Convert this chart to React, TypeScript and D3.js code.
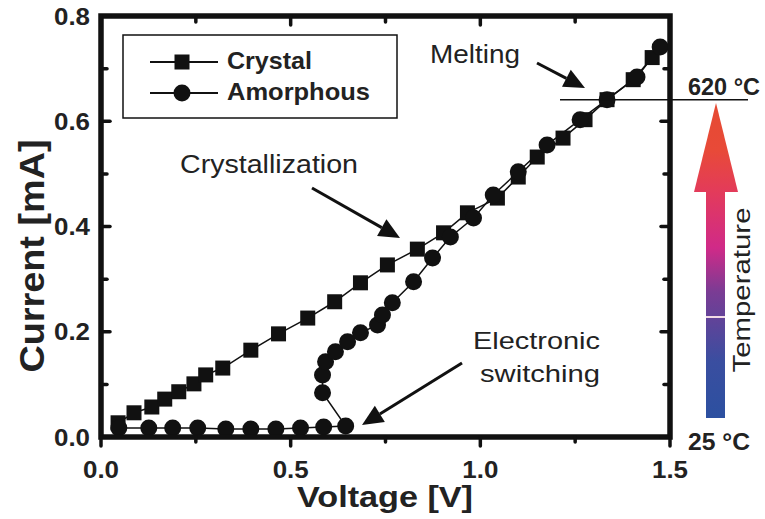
import React from "react";
import * as d3 from "d3";

const crystalV = [0.045, 0.087, 0.134, 0.168, 0.205, 0.245, 0.276, 0.321, 0.395, 0.468, 0.545, 0.616, 0.684, 0.755, 0.834, 0.903, 0.966, 1.045, 1.1, 1.15, 1.218, 1.276, 1.334, 1.403, 1.453];
const crystalI = [0.027, 0.046, 0.057, 0.072, 0.086, 0.101, 0.118, 0.131, 0.165, 0.196, 0.226, 0.257, 0.293, 0.327, 0.357, 0.388, 0.426, 0.454, 0.494, 0.532, 0.568, 0.603, 0.641, 0.679, 0.721];
const amorphV = [0.047, 0.126, 0.189, 0.255, 0.329, 0.395, 0.461, 0.526, 0.587, 0.645, 0.584, 0.584, 0.592, 0.618, 0.65, 0.684, 0.729, 0.742, 0.768, 0.824, 0.874, 0.921, 0.982, 1.034, 1.1, 1.176, 1.263, 1.334, 1.413, 1.474];
const amorphI = [0.017, 0.017, 0.017, 0.017, 0.015, 0.015, 0.015, 0.017, 0.019, 0.021, 0.084, 0.118, 0.143, 0.162, 0.181, 0.198, 0.213, 0.232, 0.255, 0.295, 0.34, 0.38, 0.416, 0.46, 0.504, 0.555, 0.603, 0.641, 0.684, 0.741];

const xMajor = [0, 0.5, 1.0, 1.5];
const xMinor = [0.25, 0.75, 1.25];
const yMajor = [0, 0.2, 0.4, 0.6, 0.8];
const yMinor = [0.1, 0.3, 0.5, 0.7];
const meltCurrent = 0.641;

const FONT = "'Liberation Sans', Arial, Helvetica, sans-serif";

export default function App() {
  const x = d3.scaleLinear().domain([0, 1.5]).range([101, 670]);
  const y = d3.scaleLinear().domain([0, 0.8]).range([437, 16]);
  const line = d3.line<[number, number]>().x((d) => x(d[0])).y((d) => y(d[1]));
  const cPts: [number, number][] = crystalV.map((v, i) => [v, crystalI[i]]);
  const aPts: [number, number][] = amorphV.map((v, i) => [v, amorphI[i]]);
  const x0 = x(0), x1 = x(1.5), y0 = y(0), y1 = y(0.8);

  const arrow = (sx: number, sy: number, tx: number, ty: number, key: string) => {
    const ang = Math.atan2(ty - sy, tx - sx);
    const L = 21, W = 9.5;
    const bx = tx - L * Math.cos(ang), by = ty - L * Math.sin(ang);
    const px = -Math.sin(ang), py = Math.cos(ang);
    return (
      <g key={key}>
        <line x1={sx} y1={sy} x2={bx} y2={by} stroke="#111" strokeWidth={3} />
        <polygon points={`${tx},${ty} ${bx + px * W},${by + py * W} ${bx - px * W},${by - py * W}`} fill="#111" />
      </g>
    );
  };

  const meltY = y(meltCurrent);

  return (
    <svg width={765} height={519} style={{ position: "absolute", left: 0, top: 0, background: "#fff" }} fontFamily={FONT}>
      <defs>
        <linearGradient id="tgrad" gradientUnits="userSpaceOnUse" x1={0} y1={418} x2={0} y2={103}>
          <stop offset="0" stopColor="#2c50a0" />
          <stop offset="0.18" stopColor="#3a4ea0" />
          <stop offset="0.4" stopColor="#7a3c94" />
          <stop offset="0.54" stopColor="#d02a88" />
          <stop offset="0.72" stopColor="#e33b5a" />
          <stop offset="0.85" stopColor="#e84a38" />
          <stop offset="1" stopColor="#e64a32" />
        </linearGradient>
      </defs>

      {/* data lines */}
      <path d={line(cPts) || ""} fill="none" stroke="#111" strokeWidth={1.5} />
      <path d={line(aPts) || ""} fill="none" stroke="#111" strokeWidth={1.5} />
      {cPts.map((p, i) => (
        <rect key={"c" + i} x={x(p[0]) - 7.5} y={y(p[1]) - 7.5} width={15} height={15} fill="#111" />
      ))}
      {aPts.map((p, i) => (
        <circle key={"a" + i} cx={x(p[0])} cy={y(p[1])} r={8.5} fill="#111" />
      ))}

      {/* frame */}
      <rect x={x0} y={y1} width={x1 - x0} height={y0 - y1} fill="none" stroke="#111" strokeWidth={5.5} />
      {/* ticks */}
      {yMajor.map((t) => (
        <g key={"ym" + t}>
          <line x1={x0} x2={x0 + 9} y1={y(t)} y2={y(t)} stroke="#111" strokeWidth={3.5} strokeLinecap="round" />
          <line x1={x1} x2={x1 - 9} y1={y(t)} y2={y(t)} stroke="#111" strokeWidth={3.5} strokeLinecap="round" />
        </g>
      ))}
      {yMinor.map((t) => (
        <g key={"yn" + t}>
          <line x1={x0} x2={x0 + 6} y1={y(t)} y2={y(t)} stroke="#111" strokeWidth={3.5} strokeLinecap="round" />
          <line x1={x1} x2={x1 - 6} y1={y(t)} y2={y(t)} stroke="#111" strokeWidth={3.5} strokeLinecap="round" />
        </g>
      ))}
      {xMajor.map((t) => (
        <g key={"xm" + t}>
          <line x1={x(t)} x2={x(t)} y1={y1} y2={y1 + 9} stroke="#111" strokeWidth={3.5} strokeLinecap="round" />
          <line x1={x(t)} x2={x(t)} y1={y0} y2={y0 + 9} stroke="#111" strokeWidth={3.5} strokeLinecap="round" />
        </g>
      ))}
      {xMinor.map((t) => (
        <g key={"xn" + t}>
          <line x1={x(t)} x2={x(t)} y1={y1} y2={y1 + 6} stroke="#111" strokeWidth={3.5} strokeLinecap="round" />
          <line x1={x(t)} x2={x(t)} y1={y0} y2={y0 + 5} stroke="#111" strokeWidth={3.5} strokeLinecap="round" />
        </g>
      ))}
      {/* tick labels */}
      {yMajor.map((t) => (
        <text key={"yl" + t} x={90} y={y(t) + 8.5} textAnchor="end" fontSize={24} fontWeight="bold" fill="#222" textLength={36} lengthAdjust="spacingAndGlyphs">
          {t.toFixed(1)}
        </text>
      ))}
      {xMajor.map((t) => (
        <text key={"xl" + t} x={x(t)} y={478} textAnchor="middle" fontSize={24} fontWeight="bold" fill="#222" textLength={36} lengthAdjust="spacingAndGlyphs">
          {t.toFixed(1)}
        </text>
      ))}
      {/* axis titles */}
      <text x={297} y={507} fontSize={30} fontWeight="bold" fill="#222" textLength={176} lengthAdjust="spacingAndGlyphs">
        Voltage [V]
      </text>
      <text transform="translate(44,256) rotate(-90)" textAnchor="middle" fontSize={35} fontWeight="bold" fill="#222" textLength={233} lengthAdjust="spacingAndGlyphs">
        Current [mA]
      </text>

      {/* legend */}
      <rect x={123} y={35} width={274} height={83} fill="#fff" stroke="#111" strokeWidth={1.5} />
      <line x1={150} x2={218} y1={62} y2={62} stroke="#111" strokeWidth={2} />
      <rect x={174.5} y={54.5} width={15} height={15} fill="#111" />
      <line x1={150} x2={218} y1={93} y2={93} stroke="#111" strokeWidth={2} />
      <circle cx={182} cy={93} r={8.5} fill="#111" />
      <text x={227} y={69} fontSize={24} fontWeight="bold" fill="#222" textLength={85} lengthAdjust="spacingAndGlyphs">Crystal</text>
      <text x={227} y={100} fontSize={24} fontWeight="bold" fill="#222" textLength={143} lengthAdjust="spacingAndGlyphs">Amorphous</text>

      {/* annotations */}
      <text x={180} y={173} fontSize={25} fill="#222" textLength={178} lengthAdjust="spacingAndGlyphs">Crystallization</text>
      {arrow(312, 188, 400, 238, "ar1")}
      <text x={430} y={63} fontSize={26} fill="#222" textLength={90} lengthAdjust="spacingAndGlyphs">Melting</text>
      {arrow(537, 63, 585, 88, "ar2")}
      <text x={473} y={349} fontSize={24} fill="#222" textLength={127} lengthAdjust="spacingAndGlyphs">Electronic</text>
      <text x={480} y={382} fontSize={24} fill="#222" textLength={120} lengthAdjust="spacingAndGlyphs">switching</text>
      {arrow(462, 363, 362, 425, "ar3")}

      {/* melting temperature line */}
      <line x1={560} x2={748} y1={meltY} y2={meltY} stroke="#111" strokeWidth={1.5} />
      <text x={688} y={95} fontSize={23} fontWeight="bold" fill="#222" textLength={72} lengthAdjust="spacingAndGlyphs">620 °C</text>
      <text x={688} y={450} fontSize={23} fontWeight="bold" fill="#222" textLength={62} lengthAdjust="spacingAndGlyphs">25 °C</text>

      {/* temperature arrow */}
      <rect x={706} y={188} width={19} height={230} fill="url(#tgrad)" />
      <polygon points="694,192 738,192 716,103" fill="url(#tgrad)" />
      <line x1={706} x2={725} y1={317} y2={317} stroke="#f3dbe6" strokeWidth={2} />
      <text transform="translate(750,290) rotate(-90)" textAnchor="middle" fontSize={24} fill="#222" textLength={165} lengthAdjust="spacingAndGlyphs">
        Temperature
      </text>
    </svg>
  );
}
